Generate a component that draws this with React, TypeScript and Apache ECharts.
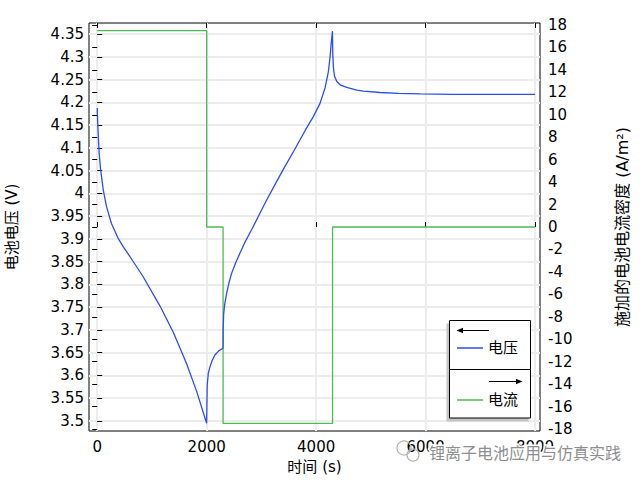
import React, { useEffect, useRef } from "react";
import * as echarts from "echarts";

// ---- data ----
const timeV = [
  0, 8, 20, 35, 60, 110, 170, 260, 380, 480, 600, 840, 1150, 1390, 1630, 1820, 1999,
  2003, 2010, 2030, 2060, 2100, 2150, 2220, 2299,
  2301, 2310, 2330, 2366, 2410, 2457, 2530, 2609, 2700, 2823, 2950, 3084, 3250, 3400, 3600, 3797, 3949, 4071, 4163, 4224, 4254, 4275, 4298,
  4303, 4315, 4335, 4377, 4450, 4560, 4742, 4863, 5168, 5500, 5900, 6500, 8000,
];
const voltage = [
  4.188, 4.16, 4.125, 4.09, 4.055, 4.008, 3.971, 3.934, 3.902, 3.882, 3.861, 3.817, 3.752, 3.695, 3.627, 3.564, 3.495,
  3.53, 3.579, 3.605, 3.619, 3.633, 3.645, 3.654, 3.66,
  3.7, 3.735, 3.757, 3.781, 3.805, 3.825, 3.848, 3.869, 3.893, 3.921, 3.951, 3.983, 4.02, 4.053, 4.095, 4.138, 4.169, 4.198, 4.232, 4.268, 4.3, 4.33, 4.357,
  4.31, 4.278, 4.258, 4.246, 4.238, 4.233, 4.227, 4.225, 4.222, 4.22, 4.219, 4.218, 4.218,
];
const timeI = [0, 2000, 2000, 2300, 2300, 4300, 4300, 8000];
const current = [17.5, 17.5, 0, 0, -17.5, -17.5, 0, 0];

const xTicks = [0, 2000, 4000, 6000, 8000];
const voltTicks = [
  3.5, 3.55, 3.6, 3.65, 3.7, 3.75, 3.8, 3.85, 3.9, 3.95, 4, 4.05, 4.1, 4.15, 4.2, 4.25, 4.3, 4.35,
];
const currentTicks = [-18, -16, -14, -12, -10, -8, -6, -4, -2, 0, 2, 4, 6, 8, 10, 12, 14, 16, 18];

const seriesNames = ["电压", "电流"];
const xName = "时间 (s)";
const yLeftName = "电池电压 (V)";
const yRightName = "施加的电池电流密度 (A/m²)";
const watermark = "锂离子电池应用与仿真实践";

const FONT = 'DejaVu Sans, "Noto Sans CJK SC", sans-serif';

export default function App() {
  const ref = useRef<HTMLDivElement>(null);
  useEffect(() => {
    if (!ref.current) return;
    const chart = echarts.init(ref.current, null, { renderer: "svg" });
    const fmt = (v: number) => String(v);
    const tick = (vals: number[]) => ({
      show: true,
      inside: true,
      length: 5,
      customValues: vals,
      lineStyle: { color: "#000", width: 1 },
    });
    const option: any = {
      animation: false,
      backgroundColor: "#fff",
      textStyle: { fontFamily: FONT },
      grid: {
        left: 89,
        right: 100,
        top: 23,
        bottom: 49,
        show: true,
        borderColor: "#000",
        borderWidth: 1,
        backgroundColor: "#fff",
        containLabel: false,
        outerBoundsMode: "none",
      },
      legend: {
        data: seriesNames,
        orient: "vertical",
        left: 457,
        top: 339,
        padding: 0,
        itemGap: 34,
        itemWidth: 26,
        itemHeight: 1.5,
        icon: "rect",
        z: 200,
        textStyle: { fontSize: 15, color: "#000", lineHeight: 18, fontFamily: FONT },
      },
      xAxis: [
        {
          type: "value",
          min: -150,
          max: 8090,
          position: "bottom",
          name: xName,
          nameLocation: "middle",
          nameGap: 28,
          nameTextStyle: { fontSize: 15, color: "#000", fontFamily: FONT },
          axisLine: { show: false },
          axisTick: tick(xTicks),
          axisLabel: { customValues: xTicks, formatter: fmt, fontSize: 15, color: "#000", margin: 8, fontFamily: FONT },
          splitLine: { show: true, lineStyle: { color: "#ececec", width: 2 } },
        },
        {
          type: "value",
          min: -150,
          max: 8090,
          position: "top",
          axisLine: { show: false },
          axisTick: tick(xTicks),
          axisLabel: { show: false },
          splitLine: { show: false },
        },
      ],
      yAxis: [
        {
          type: "value",
          min: 3.478,
          max: 4.3747,
          position: "left",
          name: yLeftName,
          nameLocation: "middle",
          nameGap: 70,
          nameRotate: 90,
          nameTextStyle: { fontSize: 15, color: "#000", fontFamily: FONT },
          axisLine: { show: false },
          axisTick: tick(voltTicks),
          axisLabel: { customValues: voltTicks, formatter: fmt, fontSize: 15, color: "#000", margin: 5, fontFamily: FONT },
          splitLine: { show: true, lineStyle: { color: "#ececec", width: 2 } },
        },
        {
          type: "value",
          min: -18.18,
          max: 18.18,
          position: "right",
          name: yRightName,
          nameLocation: "middle",
          nameGap: 74,
          nameRotate: 90,
          nameTextStyle: { fontSize: 16, color: "#000", fontFamily: FONT },
          axisLine: { show: false },
          axisTick: tick(currentTicks),
          axisLabel: { customValues: currentTicks, formatter: fmt, fontSize: 15, color: "#000", margin: 8, fontFamily: FONT },
          splitLine: { show: false },
        },
      ],
      series: [
        {
          name: seriesNames[1],
          type: "line",
          xAxisIndex: 0,
          yAxisIndex: 1,
          data: timeI.map((t, i) => [t, current[i]]),
          symbol: "none",
          color: "#4dba55",
          lineStyle: { color: "#4dba55", width: 1.3 },
          z: 3,
        },
        {
          name: seriesNames[0],
          type: "line",
          xAxisIndex: 0,
          yAxisIndex: 0,
          data: timeV.map((t, i) => [t, voltage[i]]),
          symbol: "none",
          color: "#2b4cf7",
          lineStyle: { color: "#2b4cf7", width: 1.3 },
          z: 4,
        },
      ],
      graphic: [
        { type: "rect", z: 100, shape: { x: 446.5, y: 323.5, width: 82, height: 98 }, style: { fill: "#c4c4c4" } },
        { type: "rect", z: 101, shape: { x: 449.5, y: 320.5, width: 81, height: 97.5 }, style: { fill: "#fff", stroke: "#000", lineWidth: 1 } },
        { type: "line", z: 102, shape: { x1: 449.5, y1: 369.5, x2: 530.5, y2: 369.5 }, style: { stroke: "#000", lineWidth: 1 } },
        { type: "line", z: 102, shape: { x1: 461, y1: 330.5, x2: 489, y2: 330.5 }, style: { stroke: "#000", lineWidth: 1 } },
        { type: "polygon", z: 102, shape: { points: [[456.5, 330.5], [463, 327.8], [463, 333.2]] }, style: { fill: "#000" } },
        { type: "line", z: 102, shape: { x1: 489, y1: 381.5, x2: 518, y2: 381.5 }, style: { stroke: "#000", lineWidth: 1 } },
        { type: "polygon", z: 102, shape: { points: [[522.5, 381.5], [516, 378.8], [516, 384.2]] }, style: { fill: "#000" } },
        { type: "circle", z: 300, shape: { cx: 404, cy: 448, r: 7 }, style: { fill: "none", stroke: "#b5b5b5", lineWidth: 1.2 } },
        { type: "circle", z: 300, shape: { cx: 413, cy: 455, r: 6 }, style: { fill: "none", stroke: "#b5b5b5", lineWidth: 1.2 } },
        {
          type: "text",
          z: 300,
          style: {
            text: watermark,
            x: 429,
            y: 452,
            verticalAlign: "middle",
            align: "left",
            fill: "#8e8e8e",
            stroke: "#ffffff",
            lineWidth: 3,
            font: '16px "Noto Sans CJK SC", sans-serif',
          },
        },
      ],
    };
    chart.setOption(option);
    return () => chart.dispose();
  }, []);
  return <div ref={ref} style={{ width: 640, height: 480, position: "absolute", left: 0, top: 0 }} />;
}
